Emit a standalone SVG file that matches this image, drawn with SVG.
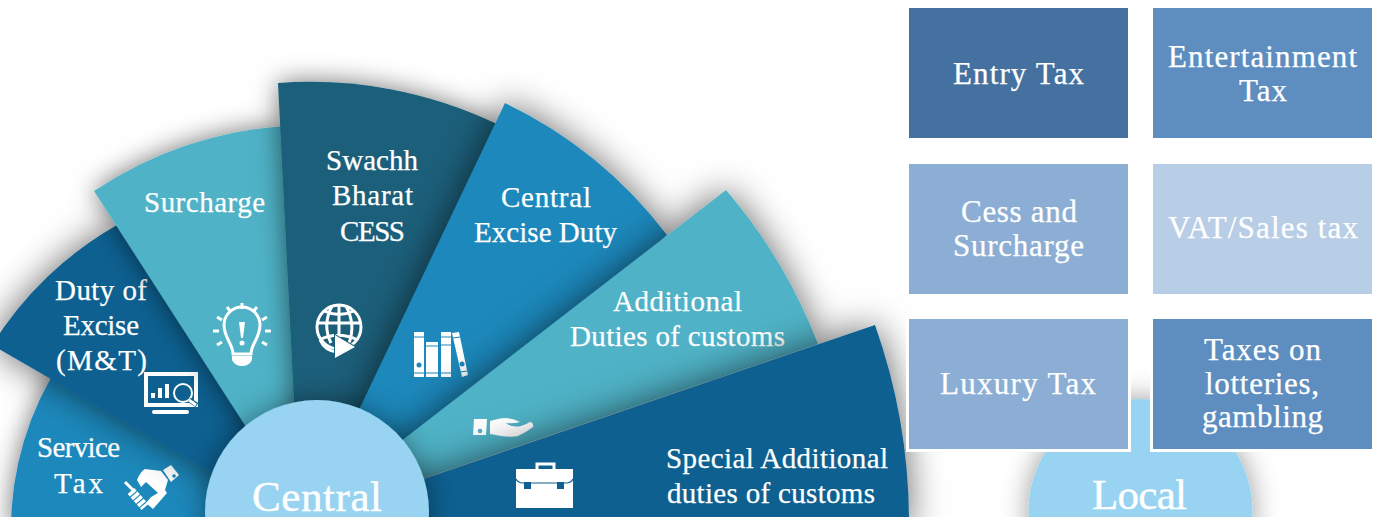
<svg xmlns="http://www.w3.org/2000/svg" width="1381" height="517" viewBox="0 0 1381 517">
<defs>
<style>
text{font-family:"Liberation Serif","Times New Roman",serif;fill:#fff;font-size:29px;stroke:#fff;stroke-width:.25}
.big{font-size:43px;stroke-width:.4}
.r{font-size:31px}
.ic{fill:#fff;stroke:none}
.ln{fill:none;stroke:#fff;stroke-width:3}
.a{filter:url(#sa)}
.b{filter:url(#sb)}
.c{filter:url(#sc)}
</style>
<filter id="sa" filterUnits="userSpaceOnUse" x="-100" y="-100" width="1581" height="717">
<feDropShadow dx="0" dy="0" stdDeviation="13" flood-color="#000" flood-opacity="0.55"/>
</filter>
<filter id="sb" filterUnits="userSpaceOnUse" x="-100" y="-100" width="1581" height="717">
<feDropShadow dx="0" dy="0" stdDeviation="18" flood-color="#000" flood-opacity="0.6"/>
</filter>
<filter id="sc" filterUnits="userSpaceOnUse" x="-100" y="-100" width="1581" height="717">
<feDropShadow dx="0" dy="0" stdDeviation="14" flood-color="#000" flood-opacity="0.4"/>
</filter>
</defs>
<rect width="1381" height="517" fill="#fff"/>
<g id="connectors"></g>
<g id="service-tax">
<path class="a" d="M62 360A305 305 0 0 0 11 530L280 530L280 460Z" fill="#1e88bb"/>
<text x="37" y="457" textLength="83">Service</text>
<text x="54" y="493" textLength="49">Tax</text>
<g>
<path class="ln" d="M125 482l8 8" stroke-width="2.500"/>
<path d="M131 491l14 16" fill="none" stroke="#fff" stroke-width="9" stroke-dasharray="3.500 1.200"/>
<path class="ic" d="M137 480Q140 472 145 469L161 471L168 480L165 490L167 493L153 509L146 503L151 497L158 493L146 482L141 487Z"/>
<path class="ic" d="M163 470L171 465L179 475L171 482Z"/>
<circle cx="174" cy="476" r="1.800" fill="#1e88bb"/>
</g>
</g>
<g id="duty-of-excise">
<path class="b" d="M-8 345A358 358 0 0 1 117 225L300 400L280 512L212 472Z" fill="#0f6090"/>
<text x="55" y="300" textLength="92">Duty of</text>
<text x="63" y="335" textLength="76">Excise</text>
<text x="56" y="370" textLength="91">(M&amp;T)</text>
<g>
<path class="ic" fill-rule="evenodd" d="M144 372h54v35h-54zM148 376v27h46v-27z"/>
<rect class="ic" x="152" y="410" width="37" height="4" rx="2"/>
<rect class="ic" x="151" y="393" width="4" height="5"/><rect class="ic" x="158" y="388" width="4" height="10"/><rect class="ic" x="165" y="384" width="4" height="14"/>
<circle cx="183" cy="393" r="9" fill="#0f6090" stroke="#fff" stroke-width="2"/>
<path d="M189 400l8 5" fill="none" stroke="#0f6090" stroke-width="5"/>
<path class="ln" d="M189 400l7 5" stroke-width="2"/>
</g>
</g>
<g id="surcharge">
<path class="a" d="M94 191A393 393 0 0 1 285 126L300 450L270 464Z" fill="#50b2c6"/>
<text x="144" y="212" textLength="121">Surcharge</text>
<g>
<path class="ln" d="M233 354C233 344 224 338 224 325A18 18 0 0 1 260 325C260 338 251 344 251 354Z" stroke-width="3.200"/>
<path class="ic" d="M232 356h20v4q-3 6-10 6t-10-6z"/>
<path class="ic" d="M239 322h6l-2 16h-2z"/><circle class="ic" cx="242" cy="343" r="2.500"/>
<path class="ln" d="M242 303v6M227 307l4 5M257 307l-4 5M217 317l5 3M267 317l-5 3M213 331h6M265 331h6M217 345l5-3M267 345l-5-3" stroke-width="2.500"/>
</g>
</g>
<g id="swachh-bharat-cess">
<path class="a" d="M278 83A432 432 0 0 1 497 124L400 420L297 460Z" fill="#1a5f7a"/>
<text x="326" y="170" textLength="92">Swachh</text>
<text x="332" y="205" textLength="81">Bharat</text>
<text x="340" y="241" textLength="65">CESS</text>
<g>
<circle class="ln" cx="339" cy="327" r="22"/>
<path class="ln" d="M324 311Q339 318 354 311M318 323h42M321 339Q339 331 358 340M339 305v38M332 306Q322 325 331 343M346 306Q356 325 349 343" stroke-width="2.200"/>
<path class="ln" d="M320 340Q325 351 337 352" stroke-width="4.500"/>
<path d="M335 335L355 347L335 358Z" fill="#fff" stroke="#1a5f7a" stroke-width="2" paint-order="stroke"/>
</g>
</g>
<g id="central-excise-duty">
<path class="b" d="M505 103A448 448 0 0 1 667 235L440 460L340 450Z" fill="#1e88bb"/>
<text x="501" y="207" textLength="90">Central</text>
<text x="474" y="242" textLength="143">Excise Duty</text>
<g>
<path class="ic" d="M414 332h10v45h-10zM426 342h12v35h-12zM441 332h10v45h-10zM452 333l7-1 9 43-6 2z"/>
<path d="M414 337h10M414 373h10M426 346h12M426 373h12M441 337h10M441 345h10M441 373h10M453 338l7-1M460 372l7-1" fill="none" stroke="#1e88bb" stroke-width="1.200"/>
<circle cx="419" cy="365" r="2.500" fill="#1e88bb"/><circle cx="462" cy="364" r="2.500" fill="#1e88bb"/>
</g>
</g>
<g id="additional-duties-of-customs">
<path class="b" d="M726 190A525 525 0 0 1 818 344L360 500L360 473Z" fill="#50b2c6"/>
<text x="613" y="311" textLength="129">Additional</text>
<text x="570" y="346" textLength="215">Duties of customs</text>
<g>
<path class="ic" d="M474 419h13l-1 16h-13z"/><circle cx="480" cy="431" r="2.300" fill="#50b2c6"/>
<path class="ic" d="M490 421Q500 418 505 418Q513 418 520 422Q513 424 506 423Q512 428 521 426Q527 424 530 422Q534 423 533 427Q525 433 518 436Q510 438 490 434Z"/>
</g>
</g>
<g id="special-additional-duties">
<path class="b" d="M875 325A592 592 0 0 1 909 517L908 530L380 530L380 494Z" fill="#0f6090"/>
<text x="666" y="468" textLength="222">Special Additional</text>
<text x="667" y="503" textLength="208">duties of customs</text>
<g>
<path class="ic" d="M516 469h57v39h-57z"/>
<path class="ln" d="M537 469v-5h17v5" stroke-width="2"/>
<path d="M516 479q2 4 7 4h43q5 0 7-4" fill="none" stroke="#0f6090" stroke-width="1.200"/>
<rect x="524" y="482" width="7" height="7" fill="#0f6090"/><rect x="557" y="482" width="7" height="7" fill="#0f6090"/>
</g>
</g>
<g id="central">
<circle class="c" cx="317" cy="512" r="112" fill="#98d4f1"/>
<text class="big" x="252" y="511" textLength="130">Central</text>
</g>
<g id="local">
<circle class="c" cx="1140.500" cy="511" r="112" fill="#98d4f1"/>
<text class="big" x="1092" y="509" textLength="95">Local</text>
</g>
<g id="entry-tax"><rect x="909" y="8" width="219" height="130" fill="#44719f"/><text class="r" x="953" y="84" textLength="131">Entry Tax</text></g>
<g id="entertainment-tax"><rect x="1153" y="8" width="219" height="130" fill="#5e8dbf"/><text class="r" x="1168" y="67" textLength="189">Entertainment</text><text class="r" x="1239" y="101" textLength="48">Tax</text></g>
<g id="cess-and-surcharge"><rect x="909" y="164" width="219" height="130" fill="#8daed4"/><text class="r" x="961" y="222" textLength="116">Cess and</text><text class="r" x="953" y="256" textLength="131">Surcharge</text></g>
<g id="vat-sales-tax"><rect x="1153" y="164" width="219" height="130" fill="#b8cde6"/><text class="r" x="1168" y="238" textLength="190">VAT/Sales tax</text></g>
<g id="luxury-tax"><rect x="907.500" y="317.500" width="222" height="133" fill="#8daed4" stroke="#fff" stroke-width="3"/><text class="r" x="940" y="394" textLength="156">Luxury Tax</text></g>
<g id="taxes-on-lotteries"><rect x="1151.500" y="317.500" width="222" height="133" fill="#5e8dbf" stroke="#fff" stroke-width="3"/><text class="r" x="1204" y="360" textLength="117">Taxes on</text><text class="r" x="1205" y="394" textLength="114">lotteries,</text><text class="r" x="1202" y="427" textLength="121">gambling</text></g>
</svg>
